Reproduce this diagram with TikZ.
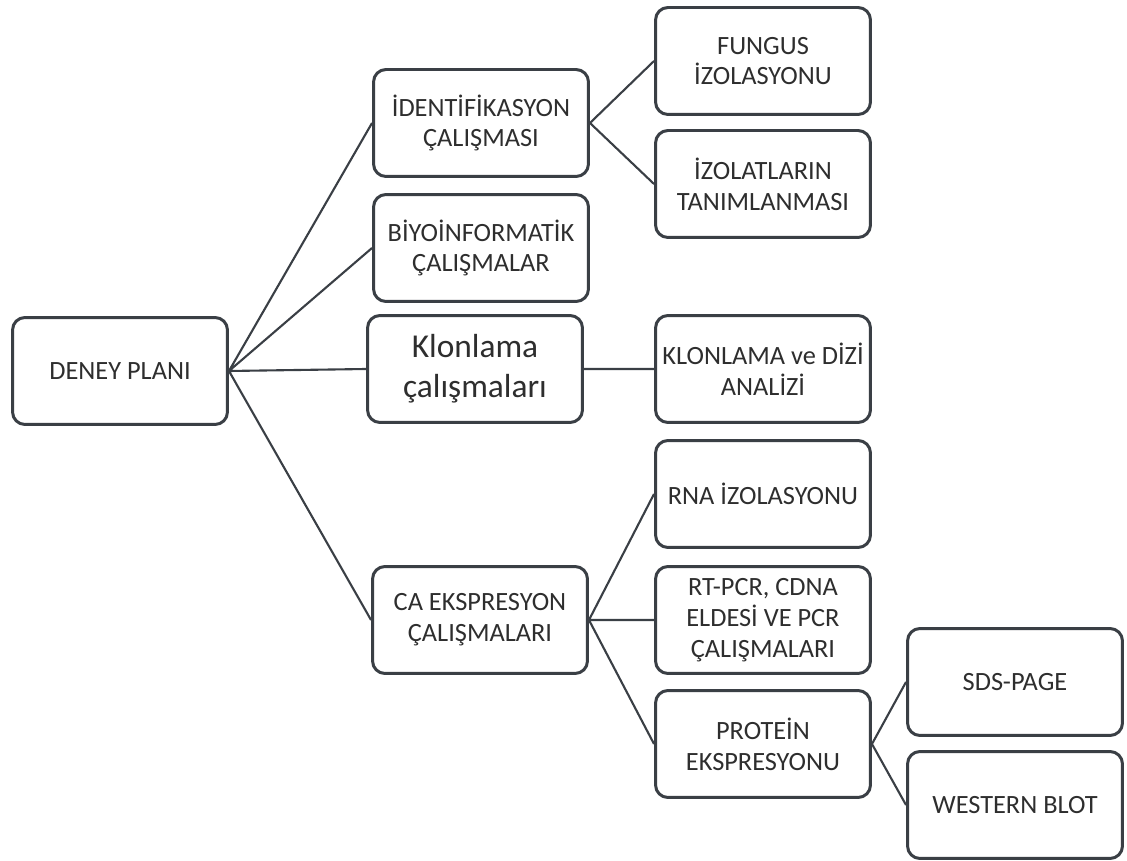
\documentclass[tikz,border=0pt]{standalone}
\usepackage{fontspec}
\setmainfont{Carlito}
\usepackage{tikz}
\usepackage{xcolor}
\usetikzlibrary{
    calc,
    positioning
}
\definecolor{cizgi}{HTML}{3A3F45}
\definecolor{yazi}{HTML}{2E2E2E}
\tikzset{
    kutu/.style={draw=cizgi, line width=1.7pt, rounded corners=0.25cm,
        fill=white, text=yazi, align=center,
        minimum width=4.3cm, minimum height=2.14cm, inner sep=2pt,
        font=\fontsize{15}{17.5}\selectfont},
    bag/.style={draw=cizgi, line width=1.2pt}
}

\begin{document}
\begin{tikzpicture}[x=0.02cm, y=-0.02cm]
                        \useasboundingbox (0, 0) rectangle (1127, 861);
                        \node[kutu] (deney) at (120, 371) {DENEY PLANI};
                        \node[kutu] (ident) at (481, 123) {İDENTİFİKASYON\\ÇALIŞMASI};
                        \node[kutu] (biyo) at (481, 248) {BİYOİNFORMATİK\\ÇALIŞMALAR};
                        \node[kutu, font=\fontsize{19}{23}\selectfont] (klon) at (475, 369) {Klonlama\\çalışmaları};
                        \node[kutu] (ca) at (480, 620) {CA EKSPRESYON\\ÇALIŞMALARI};
                        \node[kutu] (fungus) at (763, 61) {FUNGUS\\İZOLASYONU};
                        \node[kutu] (izolat) at (763, 184) {İZOLATLARIN\\TANIMLANMASI};
                        \node[kutu] (dizi) at (763, 369) {KLONLAMA ve DİZİ\\ANALİZİ};
                        \node[kutu] (rna) at (763, 494) {RNA İZOLASYONU};
                        \node[kutu] (rtpcr) at (763, 620) {RT-PCR, CDNA\\ELDESİ VE PCR\\ÇALIŞMALARI};
                        \node[kutu] (protein) at (763, 744) {PROTEİN\\EKSPRESYONU};
                        \node[kutu] (sds) at (1015, 682) {SDS-PAGE};
                        \node[kutu] (western) at (1015, 805) {WESTERN BLOT};
                        \draw[bag]
                        (deney.east) -- (ident.west)
                        (deney.east) -- (biyo.west)
                        (deney.east) -- (klon.west)
                        (deney.east) -- (ca.west)
                        (ident.east) -- (fungus.west)
                        (ident.east) -- (izolat.west)
                        (klon.east) -- (dizi.west)
                        (ca.east) -- (rna.west)
                        (ca.east) -- (rtpcr.west)
                        (ca.east) -- (protein.west)
                        (protein.east) -- (sds.west)
                        (protein.east) -- (western.west);
                    \end{tikzpicture}
\end{document}
